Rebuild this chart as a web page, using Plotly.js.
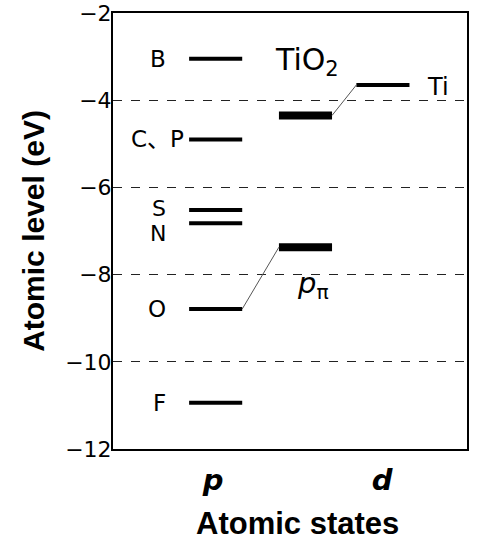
<!DOCTYPE html>
<html><head><meta charset="utf-8">
<script src="https://cdn.plot.ly/plotly-3.0.1.min.js"></script>
<style>body{margin:0;background:#fff}#c{width:484px;height:550px}</style>
</head><body><div id="c"></div>
<script>
// Data
const pLabels = ['B', 'C、P', 'S', 'N', 'O', 'F'];
const pLevels = [-3.05, -4.9, -6.52, -6.82, -8.79, -10.94];
const tio2Labels = ['d', 'pπ'];
const tio2Levels = [-4.35, -7.37];
const tiLabel = 'Ti';
const tiLevel = -3.65;
const xTickText = ['p', 'd'];
const yTicks = [-2, -4, -6, -8, -10, -12];

// Layout positions (column centres, half widths)
const colP = 1.16, colT = 2.175, colTi = 3.05, hw = 0.3;
const FONT = 'DejaVu Sans, Noto Sans CJK JP, sans-serif';
const TFONT = 'Liberation Sans, Arial, sans-serif';

const traces = [];
pLevels.forEach(v => traces.push({x:[colP-hw, colP+hw], y:[v, v], mode:'lines', line:{color:'#000', width:4}, hoverinfo:'skip'}));
tio2Levels.forEach(v => traces.push({x:[colT-hw, colT+hw], y:[v, v], mode:'lines', line:{color:'#000', width:8}, hoverinfo:'skip'}));
traces.push({x:[colTi-hw, colTi+hw], y:[tiLevel, tiLevel], mode:'lines', line:{color:'#000', width:4}, hoverinfo:'skip'});
// connectors: O -> pπ, TiO2 d -> Ti
const oVal = pLevels[pLabels.indexOf('O')];
traces.push({x:[colP+hw, colT-hw], y:[oVal, tio2Levels[1]], mode:'lines', line:{color:'#555', width:1}, hoverinfo:'skip'});
traces.push({x:[colT+hw, colTi-hw], y:[tio2Levels[0], tiLevel], mode:'lines', line:{color:'#555', width:1}, hoverinfo:'skip'});

const labelShift = {'B':0,'C、P':0,'S':2,'N':-10,'O':0,'F':0};
const labelSize = {'B':23,'C、P':23,'S':22,'N':22,'O':23,'F':23};
const annotations = pLabels.map((t, i) => ({
  x: colP-hw, y: pLevels[i], xref:'x', yref:'y', text: t, showarrow:false,
  xanchor:'right', xshift: t==='C、P' ? -3 : -21, yshift: labelShift[t],
  font:{family:FONT, size:labelSize[t], color:'#000'}
}));
annotations.push({x:colT, y:pLevels[0], xref:'x', yref:'y', text:'TiO<sub>2</sub>', showarrow:false, yshift:-3, xshift:2,
  font:{family:FONT, size:30, color:'#000'}});
annotations.push({x:colTi+hw, y:tiLevel, xref:'x', yref:'y', text:tiLabel, showarrow:false, xanchor:'left', xshift:16, yshift:-2,
  font:{family:FONT, size:24, color:'#000'}});
annotations.push({x:colT, y:tio2Levels[1], xref:'x', yref:'y', text:'<i>p</i><sub>π</sub>', showarrow:false, xshift:8, yshift:-38,
  font:{family:FONT, size:29, color:'#000'}});
annotations.push({x:0.5, y:-0.125, xref:'paper', yref:'paper', text:'<b>Atomic states</b>', showarrow:false, xshift:7, yanchor:'top',
  font:{family:TFONT, size:31, color:'#000'}});

const layout = {
  width:484, height:550, margin:{l:113, r:17, t:13, b:101},
  paper_bgcolor:'#fff', plot_bgcolor:'#fff', showlegend:false,
  xaxis:{range:[0,4], showgrid:false, zeroline:false, showline:true, mirror:true, linecolor:'#000', linewidth:2,
    tickvals:[1.13, 3.04], ticktext:xTickText.map(t=>'<b><i>'+t+'</i></b>'), ticks:'', ticklabelstandoff:4,
    tickfont:{family:FONT, size:29, color:'#000'}, fixedrange:true},
  yaxis:{range:[-12,-2], tickvals:yTicks, ticktext:yTicks.map(v=>'−'+Math.abs(v)), showgrid:true, gridcolor:'#222', griddash:'dash', gridwidth:1,
    zeroline:false, showline:true, mirror:true, linecolor:'#000', linewidth:2, ticks:'', ticklabelstandoff:-5,
    tickfont:{family:FONT, size:22, color:'#000'},
    title:{text:'<b>Atomic level (eV)</b>', font:{family:TFONT, size:30, color:'#000'}, standoff:12}, fixedrange:true},
  annotations: annotations
};
Plotly.newPlot('c', traces, layout, {staticPlot:true});
</script></body></html>
